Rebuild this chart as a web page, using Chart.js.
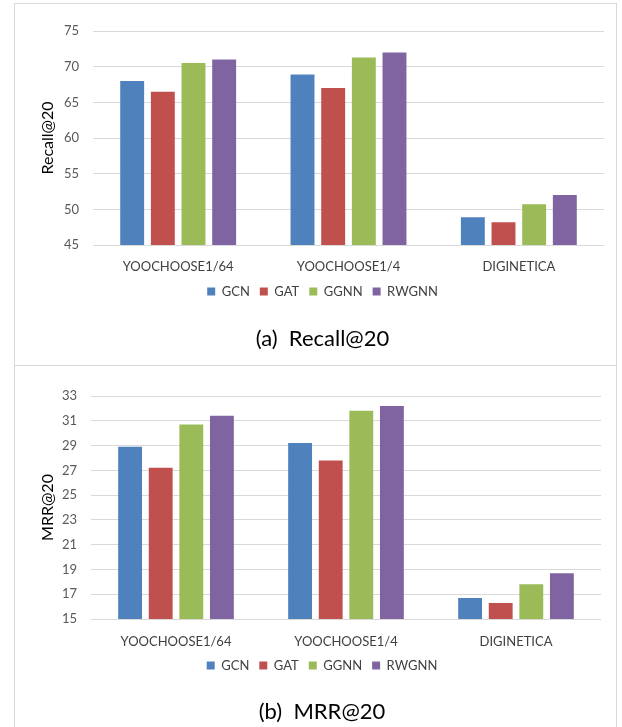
<!DOCTYPE html>
<html>
<head>
<meta charset="utf-8">
<script src="https://cdn.jsdelivr.net/npm/chart.js@4"></script>
<style>
  html, body { margin: 0; padding: 0; background: #fff; }
  body { width: 622px; height: 727px; position: relative; overflow: hidden; }
  .panel { position: absolute; left: 14px; width: 603px; border: 1px solid #d9d9d9; box-sizing: border-box; }
  #p1 { top: 3px; height: 363px; }
  #p2 { top: 365px; height: 370px; }
  canvas { position: absolute; left: 0; top: 0; }
</style>
</head>
<body>
<div class="panel" id="p1"><canvas id="c1" width="603" height="362"></canvas></div>
<div class="panel" id="p2"><canvas id="c2" width="603" height="362"></canvas></div>
<script>
const categories = ["YOOCHOOSE1/64", "YOOCHOOSE1/4", "DIGINETICA"];
const seriesNames = ["GCN", "GAT", "GGNN", "RWGNN"];
const seriesColors = ["#4F81BD", "#C0504D", "#9BBB59", "#8064A2"];

const recallGCN   = [68.0, 68.9, 48.9];
const recallGAT   = [66.5, 67.0, 48.2];
const recallGGNN  = [70.5, 71.3, 50.7];
const recallRWGNN = [71.0, 72.0, 52.0];

const mrrGCN   = [28.9, 29.2, 16.7];
const mrrGAT   = [27.2, 27.8, 16.3];
const mrrGGNN  = [30.7, 31.8, 17.8];
const mrrRWGNN = [31.4, 32.2, 18.7];

const recallTicks = [45, 50, 55, 60, 65, 70, 75];
const mrrTicks = [15, 17, 19, 21, 23, 25, 27, 29, 31, 33];

const FONT = "Lato";

function makeChart(id, series, ticks, yTitle, title, cfg) {
  const datasets = series.map((d, i) => ({
    label: seriesNames[i],
    data: d,
    backgroundColor: seriesColors[i],
    borderWidth: 0,
    categoryPercentage: 0.72,
    barPercentage: 0.78
  }));
  return new Chart(document.getElementById(id), {
    type: 'bar',
    data: { labels: categories, datasets },
    options: {
      responsive: false,
      animation: false,
      devicePixelRatio: 1,
      layout: { padding: { top: cfg.padTop, right: cfg.padRight, bottom: 0, left: cfg.padLeft } },
      plugins: {
        tooltip: { enabled: false },
        legend: {
          position: 'bottom',
          labels: {
            boxWidth: 8, boxHeight: 8, padding: 10,
            color: '#404040',
            font: { family: FONT, size: 13 }
          }
        },
        title: {
          display: true,
          text: title,
          position: 'bottom',
          color: '#000',
          font: { family: FONT, size: 22, weight: 'normal' },
          padding: { top: cfg.titleTop, bottom: cfg.titleBottom }
        }
      },
      scales: {
        x: {
          grid: { display: false, drawTicks: false },
          border: { display: false },
          ticks: { color: '#404040', font: { family: FONT, size: 13 }, padding: cfg.xPad, maxRotation: 0 },
          afterFit: (s) => { s.height = 30; }
        },
        y: {
          min: ticks[0],
          max: ticks[ticks.length - 1],
          afterBuildTicks: (s) => { s.ticks = ticks.map(v => ({ value: v })); },
          grid: { color: '#d9d9d9', lineWidth: 1, drawTicks: false },
          border: { display: false },
          ticks: { color: '#595959', font: { family: FONT, size: 13 }, padding: 14 },
          title: {
            display: true, text: yTitle, color: '#000',
            font: { family: FONT, size: 16 },
            padding: { top: cfg.yTitlePad, bottom: 0 }
          },
          afterFit: (s) => { s.width = cfg.yWidth; }
        }
      }
    }
  });
}

makeChart('c1', [recallGCN, recallGAT, recallGGNN, recallRWGNN], recallTicks, 'Recall@20', '(a)  Recall@20',
  { padTop: 27, padRight: 14, padLeft: 26, titleTop: 17.6, titleBottom: 14, xPad: 14, yWidth: 52, yTitlePad: -2.6 });
makeChart('c2', [mrrGCN, mrrGAT, mrrGGNN, mrrRWGNN], mrrTicks, 'MRR@20', '(b)  MRR@20',
  { padTop: 30, padRight: 17, padLeft: 28, titleTop: 16.8, titleBottom: 2.8, xPad: 15, yWidth: 48, yTitlePad: -4.6 });
</script>
</body>
</html>
